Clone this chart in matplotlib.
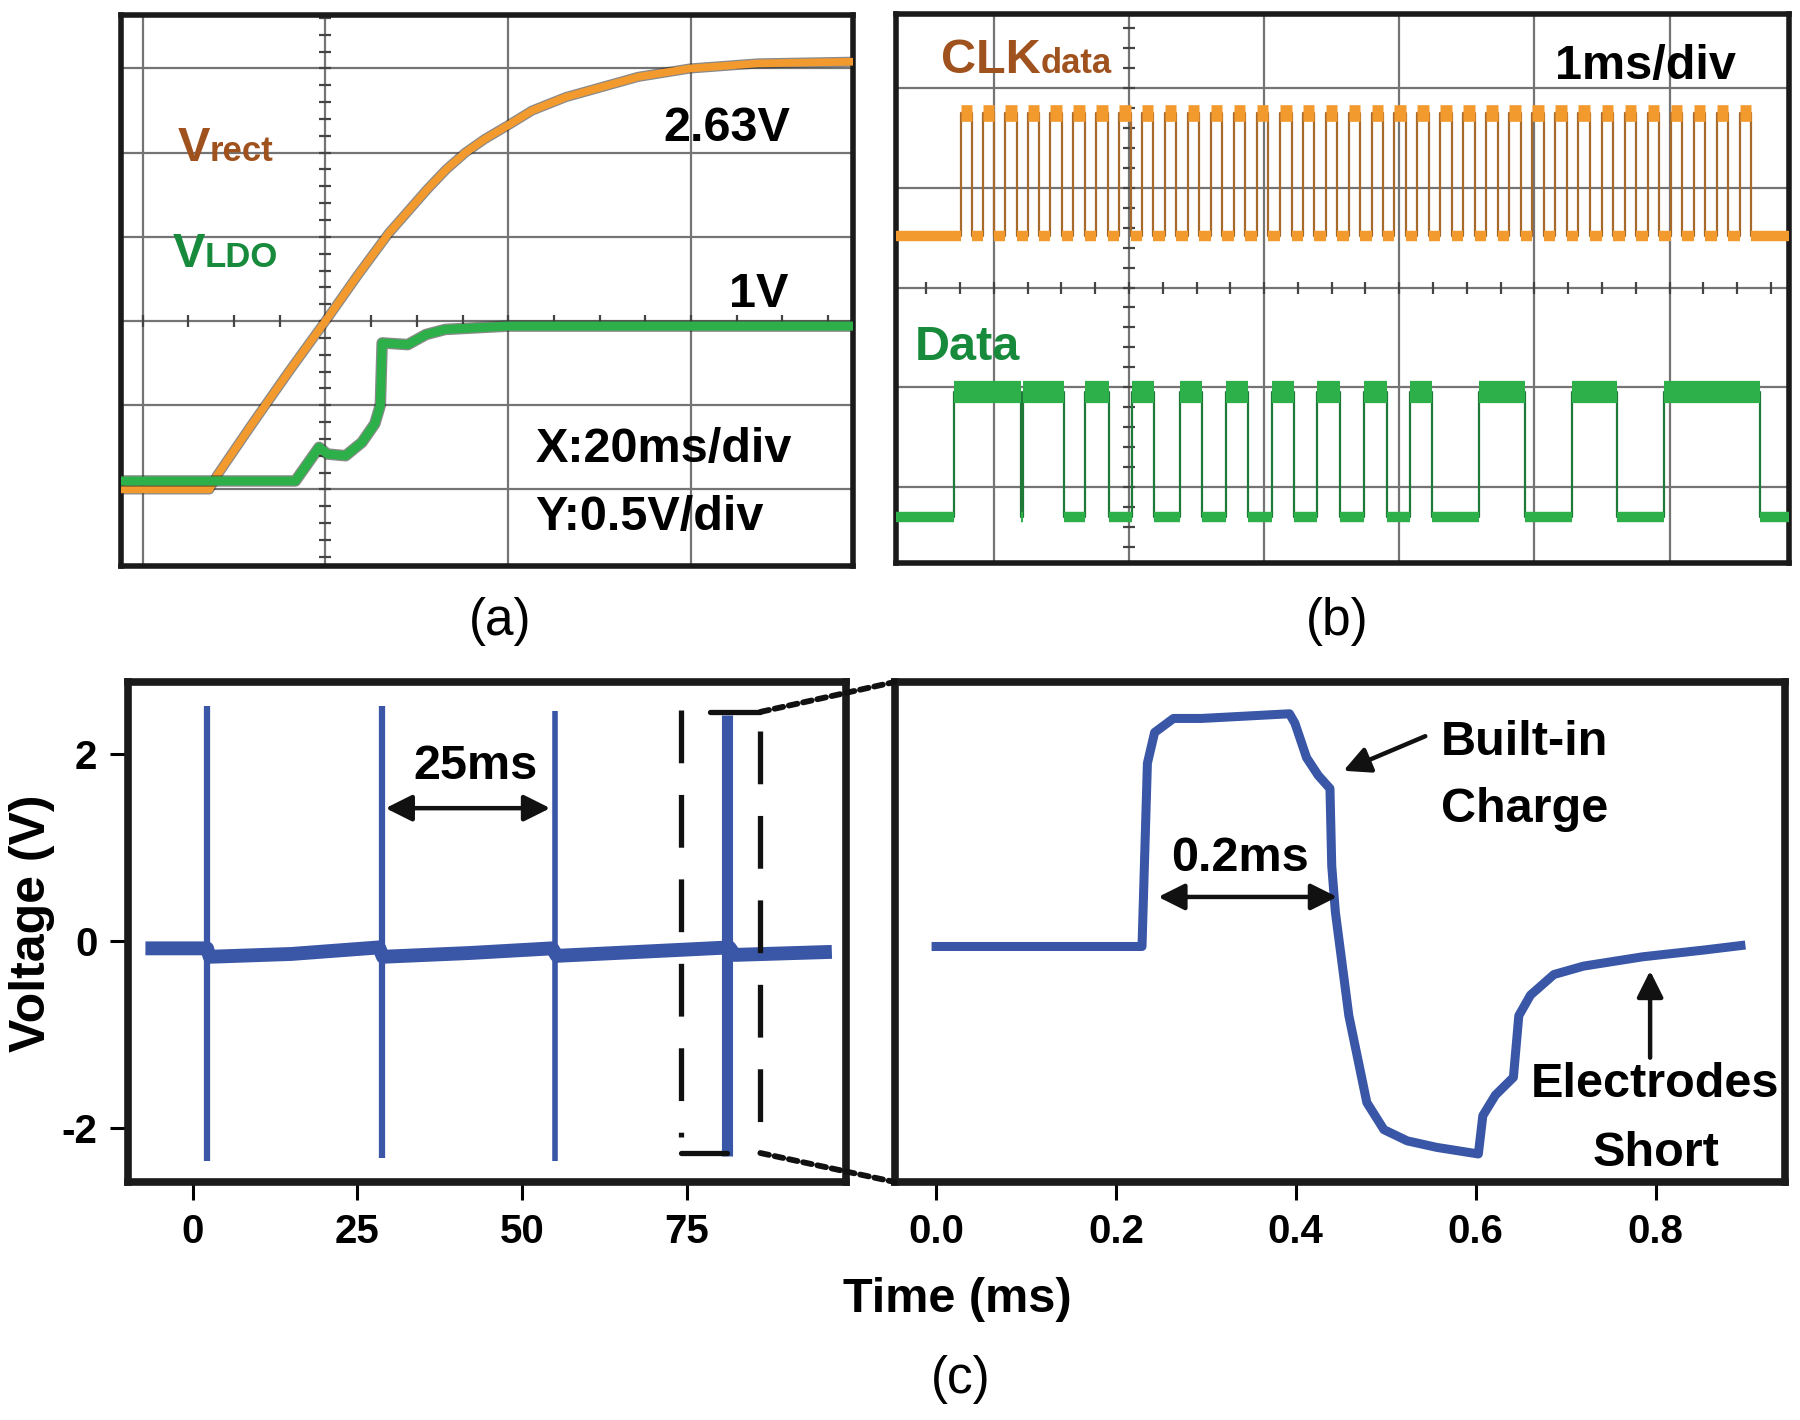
import matplotlib
matplotlib.use('Agg')
import matplotlib.pyplot as plt
import matplotlib.patheffects as pe
from matplotlib.patches import ConnectionPatch
from matplotlib.ticker import FormatStrFormatter
import numpy as np

W, H = 1800, 1420

# (a) power-up, time in ms (20 ms/div), voltage in V (0.5 V/div)
VRECT_T = [-2.4, 7.3, 8.1, 12, 16, 20, 23.5, 26.9, 29.0, 31.1, 33.2, 35.3,
           37.4, 39.9, 42.6, 46.3, 54.2, 59.9, 67.3, 77.7]
VRECT_V = [0.0, 0.0, 0.08, 0.39, 0.70, 1.0, 1.27, 1.52, 1.65, 1.78, 1.90,
           2.0, 2.08, 2.16, 2.25, 2.33, 2.45, 2.50, 2.53, 2.54]
VLDO_T = [-2.4, 16.7, 18.0, 19.3, 20.2, 22.2, 24.0, 25.4, 26.0, 26.2, 29.0,
          31.0, 33.1, 40.0, 77.7]
VLDO_V = [0.05, 0.05, 0.15, 0.25, 0.21, 0.20, 0.28, 0.39, 0.50, 0.87, 0.86,
          0.92, 0.95, 0.97, 0.97]

# (b) clock and data, time in ms (1 ms/div), amplitude in divisions
CLK_RISE = [-0.245, -0.080, 0.085, 0.250, 0.418, 0.588, 0.757, 0.930, 1.095,
            1.265, 1.437, 1.604, 1.775, 1.945, 2.118, 2.285, 2.455, 2.625,
            2.795, 2.965, 3.135, 3.305, 3.475, 3.645, 3.815, 3.985, 4.155,
            4.325, 4.498, 4.668, 4.838, 5.008, 5.180, 5.350, 5.520]
CLK_HIGH_MS = 0.085
CLK_LO, CLK_HI = 0.52, 1.75
DATA_EDGES = [-0.293, 0.205, 0.215, 0.517, 0.677, 0.849, 1.022, 1.186, 1.375,
              1.539, 1.720, 1.884, 2.056, 2.220, 2.393, 2.561, 2.738, 2.906,
              3.078, 3.242, 3.587, 3.932, 4.277, 4.609, 4.959, 5.666]
DATA_LO, DATA_HI = -2.30, -1.05

# (c) stimulation pulses, time in ms, voltage in V
BASE_T = [-6.1, 2.2, 2.6, 15.0, 28.3, 28.9, 42.0, 54.6, 55.3, 70.0, 81.5,
          82.3, 96.0]
BASE_V = [-0.08, -0.08, -0.17, -0.14, -0.07, -0.17, -0.13, -0.08, -0.16,
          -0.11, -0.07, -0.15, -0.12]
SPIKE_T = [2.2, 28.7, 55.0, 81.2]
SPIKE_TOP = [2.51, 2.51, 2.46, 2.42]
SPIKE_BOT = [-2.35, -2.32, -2.35, -2.30]
PULSE_T = [0.0, 0.229, 0.235, 0.243, 0.264, 0.295, 0.393, 0.399, 0.412,
           0.425, 0.438, 0.440, 0.444, 0.459, 0.479, 0.498, 0.524, 0.557,
           0.603, 0.608, 0.622, 0.642, 0.648, 0.661, 0.687, 0.720, 0.786,
           0.852, 0.895]
PULSE_V = [-0.06, -0.06, 1.90, 2.23, 2.38, 2.38, 2.43, 2.33, 1.96, 1.77,
           1.63, 0.80, 0.31, -0.80, -1.73, -2.02, -2.14, -2.21, -2.28, -1.87,
           -1.65, -1.46, -0.80, -0.58, -0.36, -0.27, -0.17, -0.10, -0.05]
LEFT_TICKS = [0, 25, 50, 75]
RIGHT_TICKS = [0.0, 0.2, 0.4, 0.6, 0.8]
VOLT_TICKS = [-2, 0, 2]

FONT = ['Liberation Sans', 'DejaVu Sans']
BIG = 35
SUB = 25
TICK = 29
ORANGE = '#F29A2E'
GREEN = '#2DB04A'
BROWN = '#A0521E'
DKGREEN = '#178A3C'
BLUE = '#3A56A6'


def rect(left, top, right, bottom):
    """
    pixel box of the 1800x1420 canvas to figure fraction
    """
    return [left / W, 1 - bottom / H, (right - left) / W, (bottom - top) / H]


def px(x, y):
    return x / W, 1 - y / H


def label_sub(fig, x, y, main, sub, color):
    """
    big letter followed by a smaller subscript on the same baseline
    """
    t = fig.text(*px(x, y), main, color=color, fontsize=BIG, va='baseline')
    renderer = fig.canvas.get_renderer()
    x1 = t.get_window_extent(renderer).x1
    fig.text(x1 / W, 1 - y / H, sub, color=color, fontsize=SUB,
             va='baseline')


def scope_axes(fig, box, xlim, ylim, xgrid, ygrid, center, xminor, yminor):
    """
    oscilloscope style screen with grid and minor marks on center lines
    """
    ax = fig.add_axes(rect(*box))
    ax.set_xlim(xlim)
    ax.set_ylim(ylim)
    ax.set_xticks(xgrid)
    ax.set_yticks(ygrid)
    ax.tick_params(length=0, labelbottom=False, labelleft=False)
    ax.grid(True, color='#747474', lw=1.6)
    ax.set_axisbelow(True)
    for s in ax.spines.values():
        s.set_linewidth(4)
        s.set_color('#1a1a1a')
    cx, cy = center
    ax.plot(np.full(len(yminor), cx), yminor, ls='', marker='_', ms=8,
            mew=1.6, color='#444444', zorder=1.5)
    ax.plot(xminor, np.full(len(xminor), cy), ls='', marker='|', ms=8,
            mew=1.6, color='#444444', zorder=1.5)
    return ax


def outline(lw):
    return [pe.Stroke(linewidth=lw + 1.8, foreground='#2a2a2a', alpha=0.55),
            pe.Normal()]


def panel_a(fig):
    ax = scope_axes(fig, (120.6, 14.6, 852.8, 566), (-2.42, 77.7),
                    (-0.455, 2.82), [0, 20, 40, 60],
                    [0, 0.5, 1.0, 1.5, 2.0, 2.5], (20, 1.0),
                    np.arange(0, 80, 5), np.arange(-0.4, 2.85, 0.1))
    ax.plot(VRECT_T, VRECT_V, color=ORANGE, lw=5.5, zorder=3,
            solid_joinstyle='round', path_effects=outline(5.5))
    ax.plot(VLDO_T, VLDO_V, color=GREEN, lw=6.5, zorder=4,
            solid_joinstyle='round', path_effects=outline(6.5))
    label_sub(fig, 177.3, 160.8, 'V', 'rect', BROWN)
    label_sub(fig, 172.5, 266.7, 'V', 'LDO', DKGREEN)
    fig.text(*px(790, 140.7), '2.63V', fontsize=BIG, ha='right',
             va='baseline')
    fig.text(*px(788, 307), '1V', fontsize=BIG, ha='right', va='baseline')
    fig.text(*px(535.5, 462), 'X:20ms/div', fontsize=BIG, va='baseline')
    fig.text(*px(535.5, 530), 'Y:0.5V/div', fontsize=BIG, va='baseline')


def clock_path(rises, width, lo, hi, x0, x1):
    xs, ys = [x0], [lo]
    for r in rises:
        xs += [r, r, r + width, r + width]
        ys += [lo, hi, hi, lo]
    xs.append(x1)
    ys.append(lo)
    return xs, ys


def toggle_path(edges, lo, hi, x0, x1):
    xs, ys, level = [x0], [lo], lo
    for e in edges:
        new = hi if level == lo else lo
        xs += [e, e]
        ys += [level, new]
        level = new
    xs.append(x1)
    ys.append(level)
    return xs, ys


def panel_b(fig):
    x0, x1 = -0.725, 5.884
    ax = scope_axes(fig, (895.8, 13.9, 1789, 562.6), (x0, x1),
                    (-2.759, 2.744), [0, 1, 2, 3, 4, 5], [-2, -1, 0, 1, 2],
                    (1.0, 0.0), np.arange(-0.75, 5.9, 0.25),
                    np.arange(-2.6, 2.65, 0.2))
    rises = np.array(CLK_RISE)
    falls = rises + CLK_HIGH_MS
    lows_from = np.r_[x0, falls]
    lows_to = np.r_[rises, x1]
    xs, ys = clock_path(rises, CLK_HIGH_MS, CLK_LO, CLK_HI, x0, x1)
    ax.plot(xs, ys, color='#A8692C', lw=1.6, zorder=3)
    ax.hlines(np.full(len(rises), CLK_HI), rises, falls, color=ORANGE,
              lw=12, zorder=4)
    ax.hlines(np.full(len(lows_from), CLK_LO), lows_from, lows_to,
              color=ORANGE, lw=7.5, zorder=4)

    edges = np.array(DATA_EDGES)
    xs, ys = toggle_path(edges, DATA_LO, DATA_HI, x0, x1)
    ax.plot(xs, ys, color='#1F7A3A', lw=1.6, zorder=3)
    starts = np.r_[x0, edges]
    ends = np.r_[edges, x1]
    levels = np.where(np.arange(len(starts)) % 2 == 0, DATA_LO, DATA_HI)
    for s, e, lv in zip(starts, ends, levels):
        ax.hlines(lv, s, e, color=GREEN, lw=16 if lv == DATA_HI else 7.5,
                  zorder=4)

    label_sub(fig, 941, 73, 'CLK', 'data', BROWN)
    fig.text(*px(1555, 78.6), '1ms/div', fontsize=BIG, va='baseline')
    fig.text(*px(914.5, 360), 'Data', color=DKGREEN, fontsize=BIG,
             va='baseline')


def frame_c(ax):
    for s in ax.spines.values():
        s.set_linewidth(5.5)
        s.set_color('#1a1a1a')
    ax.tick_params(direction='out', length=13, width=2.2, labelsize=TICK,
                   pad=9)


def double_arrow(ax, x0, x1, y):
    ax.annotate('', xy=(x1, y), xytext=(x0, y),
                arrowprops=dict(arrowstyle='<|-|>', color='#111111', lw=3.2,
                                mutation_scale=40, shrinkA=0, shrinkB=0))


def panel_c(fig):
    ylim = (-2.58, 2.77)
    axl = fig.add_axes(rect(128, 682, 846, 1182))
    axl.set_xlim(-9.8, 99.2)
    axl.set_ylim(ylim)
    axl.set_xticks(LEFT_TICKS)
    axl.set_yticks(VOLT_TICKS)
    frame_c(axl)
    axl.plot(BASE_T, BASE_V, color=BLUE, lw=10, solid_joinstyle='round',
             zorder=3)
    widths = [4.5, 4.5, 4.0, 8.0]
    for t, top, bot, w in zip(SPIKE_T, SPIKE_TOP, SPIKE_BOT, widths):
        axl.vlines(t, bot, top, color=BLUE, lw=w, zorder=3)
    double_arrow(axl, 29.3, 54.3, 1.42)
    axl.text(42.9, 1.73, '25ms', fontsize=BIG, ha='center', va='baseline')

    # zoom bracket around the last pulse
    dash = dict(color='#111111', lw=3.8, dashes=(10, 6), zorder=5)
    axl.plot([74.1, 74.1], [2.47, -2.1], **dash)
    axl.plot([86.2, 86.2], [2.25, -2.27], **dash)
    solid = dict(color='#111111', lw=3.8, solid_capstyle='round', zorder=5)
    axl.plot([78.6, 86.2], [2.45, 2.45], **solid)
    axl.plot([74.1, 81.2], [-2.27, -2.27], **solid)

    axr = fig.add_axes(rect(894.7, 682, 1785, 1182))
    axr.set_xlim(-0.046, 0.944)
    axr.set_ylim(ylim)
    axr.set_xticks(RIGHT_TICKS)
    axr.set_yticks([])
    axr.xaxis.set_major_formatter(FormatStrFormatter('%.1f'))
    frame_c(axr)
    axr.plot(PULSE_T, PULSE_V, color=BLUE, lw=6.5, solid_joinstyle='round',
             zorder=3)
    double_arrow(axr, 0.247, 0.446, 0.47)
    axr.text(0.338, 0.75, '0.2ms', fontsize=BIG, ha='center', va='baseline')
    axr.annotate('', xy=(0.453, 1.82), xytext=(0.544, 2.19),
                 arrowprops=dict(arrowstyle='-|>', color='#111111', lw=3.2,
                                 mutation_scale=40, shrinkA=0, shrinkB=0))
    axr.text(0.561, 1.99, 'Built-in', fontsize=BIG, va='baseline')
    axr.text(0.561, 1.27, 'Charge', fontsize=BIG, va='baseline')
    axr.annotate('', xy=(0.794, -0.32), xytext=(0.794, -1.25),
                 arrowprops=dict(arrowstyle='-|>', color='#111111', lw=3.2,
                                 mutation_scale=40, shrinkA=0, shrinkB=0))
    axr.text(0.799, -1.67, 'Electrodes', fontsize=BIG, ha='center',
             va='baseline')
    axr.text(0.80, -2.41, 'Short', fontsize=BIG, ha='center', va='baseline')

    dots = dict(color='#111111', lw=4.2, linestyle=(0, (1.5, 1.0)),
                zorder=6)
    for xy_l, xy_r in [((86.2, 2.45), (0, 1)), ((86.2, -2.27), (0, 0))]:
        con = ConnectionPatch(xyA=xy_l, coordsA=axl.transData, xyB=xy_r,
                              coordsB=axr.transAxes, **dots)
        fig.add_artist(con)

    fig.text(*px(32.5, 923), 'Voltage (V)', fontsize=36, rotation=90,
             ha='center', va='center')
    fig.text(*px(957.6, 1312), 'Time (ms)', fontsize=BIG, ha='center',
             va='baseline')


def main():
    plt.rcParams['font.family'] = FONT
    plt.rcParams['font.weight'] = 'bold'
    plt.rcParams['axes.unicode_minus'] = False
    fig = plt.figure(figsize=(W / 100, H / 100), dpi=100)
    panel_a(fig)
    panel_b(fig)
    panel_c(fig)
    for label, x, y in [('(a)', 500, 621), ('(b)', 1337.5, 621),
                        ('(c)', 961, 1379)]:
        fig.text(*px(x, y), label, fontweight='normal', fontsize=37,
                 ha='center', va='center')
    fig.savefig('out.png', dpi=100)


if __name__ == '__main__':
    main()
